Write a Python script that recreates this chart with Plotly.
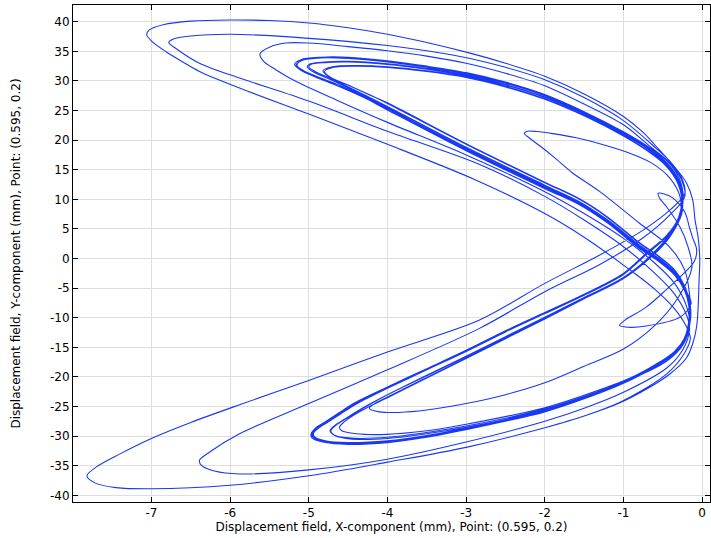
import plotly.graph_objects as go

# Displacement path (mm) at point (0.595, 0.2), traced pass by pass from the reference.
seg01_x = [-2.0, -1.5, -1.05, -0.7, -0.41, -0.2, -0.12, -0.07, -0.05, -0.04, -0.03, -0.05, -0.09, -0.12, -0.2, -0.35, -0.54, -0.75, -1.0, -1.5, -2.0, -2.5, -2.95, -3.5, -4.0, -4.5, -5.0, -5.5, -6.0, -6.5, -6.85, -7.03, -7.06, -6.98, -6.81, -6.6, -6.39, -5.88, -5.0, -4.0, -2.9, -2.0, -1.5, -0.97, -0.6, -0.35, -0.2]
seg01_y = [-28.6, -26.6, -24.4, -22.0, -19.5, -16.8, -14.4, -11.5, -8.0, -4.0, 0.0, 3.5, 6.5, 9.9, 12.8, 15.5, 18.3, 21.3, 24.0, 27.8, 30.8, 33.0, 34.7, 36.5, 37.9, 39.0, 39.8, 40.2, 40.3, 40.1, 39.5, 38.6, 37.8, 36.5, 34.9, 33.2, 31.6, 28.8, 24.4, 19.3, 13.4, 7.6, 3.6, -1.4, -5.2, -8.5, -11.5]

seg02_x = [-0.15, -0.25, -0.45, -0.7, -1.05, -1.5, -2.0, -3.0, -4.0, -5.0, -6.0, -7.0, -7.45, -7.72, -7.82, -7.7, -7.4, -7.0, -6.5, -5.88, -5.0, -4.0, -2.83, -2.0, -1.3, -0.75, -0.4, -0.22]
seg02_y = [-13.5, -16.5, -19.5, -21.8, -24.3, -26.6, -28.6, -31.9, -34.4, -36.7, -38.3, -38.9, -38.7, -37.9, -36.7, -35.2, -33.0, -30.4, -27.7, -24.7, -20.6, -15.8, -10.4, -4.2, 0.6, 4.8, 8.3, 11.0]

seg03_x = [-0.26, -0.4, -0.6, -1.0, -1.5, -2.0, -2.5, -2.95, -3.5, -4.0, -5.0, -6.0, -6.5, -6.72, -6.78, -6.68, -6.39, -5.88, -5.0, -4.0, -2.85, -2.0, -1.5, -1.0, -0.6, -0.35, -0.2]
seg03_y = [13.6, 16.3, 18.8, 23.3, 27.2, 30.2, 32.3, 33.8, 35.1, 36.0, 37.2, 37.9, 37.6, 37.1, 36.5, 35.4, 33.0, 30.5, 26.6, 21.5, 16.0, 10.5, 6.5, 2.0, -2.5, -6.0, -9.5]

seg04_x = [-0.16, -0.25, -0.45, -1.0, -1.5, -2.0, -3.0, -4.0, -5.0, -5.88, -6.2, -6.36, -6.39, -6.25, -5.88, -5.0, -4.0, -2.83, -2.0, -1.3, -0.75, -0.4, -0.22]
seg04_y = [-12.0, -15.5, -18.5, -22.6, -25.3, -27.5, -31.0, -33.9, -35.7, -36.4, -35.9, -35.0, -34.1, -32.6, -29.6, -24.5, -18.8, -11.8, -5.6, -1.0, 3.5, 7.5, 10.5]

seg05_x = [-0.27, -0.42, -0.65, -1.0, -1.5, -2.0, -2.5, -3.0, -3.5, -4.0, -4.5, -5.0, -5.3, -5.5, -5.62, -5.58, -5.42, -5.16, -4.65, -4.0, -3.0, -2.0, -1.5, -1.0, -0.6, -0.35, -0.2]
seg05_y = [13.5, 16.3, 18.8, 22.6, 26.1, 29.2, 31.3, 33.0, 34.2, 35.1, 35.8, 36.4, 36.4, 35.7, 34.6, 33.4, 31.9, 29.9, 26.8, 23.0, 17.5, 11.3, 7.6, 3.4, -0.8, -4.2, -8.0]

seg06_x = [-0.16, -0.24, -0.45, -0.9, -1.5, -2.0, -3.0, -4.0, -4.5, -4.68, -4.72, -4.66, -4.52, -4.3, -4.0, -3.5, -3.0, -2.0, -1.5, -1.0, -0.65, -0.4, -0.26]
seg06_y = [-11.0, -14.5, -17.3, -20.3, -23.3, -25.4, -28.3, -30.2, -30.3, -29.8, -29.1, -28.2, -27.0, -25.2, -23.0, -19.8, -16.6, -10.0, -6.6, -3.3, 0.3, 4.0, 7.5]

seg07_x = [-0.25, -0.3, -0.45, -0.7, -1.0, -1.5, -2.0, -2.5, -3.0, -3.5, -4.0, -4.5, -4.85, -5.08, -5.16, -5.08, -4.85, -4.6, -4.3, -4.0, -3.0, -2.0, -1.56, -1.2, -0.8, -0.55, -0.35, -0.22]
seg07_y = [10.2, 13.3, 16.2, 18.8, 21.2, 24.6, 27.5, 29.6, 31.2, 32.3, 33.2, 33.8, 33.9, 33.5, 32.7, 31.8, 30.5, 29.2, 27.4, 25.3, 18.4, 12.0, 9.3, 6.2, 1.9, -0.3, -2.6, -5.3]

seg08_x = [-0.16, -0.16, -0.22, -0.35, -0.55, -0.92, -1.5, -2.0, -2.5, -3.0, -3.5, -4.0, -4.5, -4.8, -4.94, -4.95, -4.88, -4.75, -4.6, -4.4, -4.0, -3.5, -3.0, -2.5, -2.0, -1.56, -1.0, -0.7, -0.45, -0.3]
seg08_y = [-8.0, -10.5, -13.5, -15.8, -17.7, -20.4, -23.5, -25.7, -27.3, -28.7, -30.0, -30.9, -31.2, -30.9, -30.2, -29.6, -28.6, -27.5, -26.2, -24.5, -21.8, -18.7, -15.6, -12.3, -9.2, -6.5, -2.6, 0.9, 3.8, 6.8]

seg09_x = [-0.26, -0.31, -0.46, -0.7, -1.0, -1.5, -2.0, -2.5, -3.0, -3.5, -4.0, -4.5, -4.8, -4.97, -5.0, -4.92, -4.7, -4.3, -4.0, -3.0, -2.0, -1.56, -1.2, -0.8, -0.55, -0.35, -0.22]
seg09_y = [10.0, 13.2, 16.0, 18.6, 21.0, 24.4, 27.2, 29.3, 30.9, 32.0, 32.8, 33.2, 33.1, 32.8, 32.4, 31.6, 30.3, 27.7, 25.7, 18.8, 12.4, 9.6, 6.5, 2.3, 0.0, -2.3, -5.0]

seg10_x = [-0.15, -0.15, -0.21, -0.33, -0.53, -0.9, -1.5, -2.0, -3.0, -3.5, -4.0, -4.4, -4.58, -4.61, -4.55, -4.42, -4.2, -4.0, -3.5, -3.0, -2.0, -1.5, -1.0, -0.68, -0.45, -0.3]
seg10_y = [-8.0, -10.5, -13.3, -15.5, -17.4, -20.1, -23.1, -25.2, -28.0, -29.1, -29.7, -29.6, -29.1, -28.5, -27.6, -26.4, -24.8, -23.5, -20.2, -16.9, -10.2, -6.8, -3.4, 0.2, 3.4, 6.5]

seg11_x = [-0.24, -0.29, -0.44, -0.7, -1.0, -1.5, -2.0, -2.5, -3.0, -3.5, -4.0, -4.5, -4.85, -5.1, -5.18, -5.1, -4.87, -4.6, -4.3, -4.0, -3.0, -2.0, -1.56, -1.2, -0.8, -0.55, -0.35, -0.22]
seg11_y = [10.3, 13.5, 16.4, 19.0, 21.4, 24.8, 27.7, 29.8, 31.4, 32.5, 33.4, 34.0, 34.0, 33.6, 32.8, 31.8, 30.4, 29.0, 27.2, 25.1, 18.2, 11.8, 9.1, 6.0, 1.7, -0.5, -2.8, -5.5]

seg12_x = [-0.17, -0.17, -0.23, -0.36, -0.56, -0.93, -1.5, -2.0, -2.5, -3.0, -3.5, -4.0, -4.5, -4.82, -4.96, -4.97, -4.9, -4.77, -4.62, -4.42, -4.0, -3.5, -3.0, -2.5, -2.0, -1.56, -1.0, -0.7, -0.45, -0.3]
seg12_y = [-8.0, -10.6, -13.6, -15.9, -17.8, -20.5, -23.6, -25.8, -27.4, -28.8, -30.1, -31.0, -31.3, -31.0, -30.3, -29.6, -28.5, -27.4, -26.1, -24.4, -21.7, -18.6, -15.5, -12.2, -9.1, -6.4, -2.5, 1.0, 3.9, 6.9]

seg13_x = [-0.26, -0.32, -0.47, -0.72, -1.0, -1.5, -2.0, -2.5, -3.0, -3.5, -4.0, -4.4, -4.68, -4.8, -4.72, -4.5, -4.2, -4.0, -3.0, -2.0, -1.56, -1.2, -0.8, -0.55, -0.35, -0.22]
seg13_y = [10.0, 13.0, 15.8, 18.4, 20.7, 24.1, 26.9, 29.0, 30.6, 31.6, 32.3, 32.5, 32.3, 31.6, 30.6, 29.3, 27.5, 26.2, 19.3, 12.8, 10.0, 6.9, 2.6, 0.3, -2.0, -4.8]

seg14_x = [-0.15, -0.16, -0.23, -0.4, -0.6, -0.95, -1.5, -2.0, -3.0, -4.0, -4.45, -4.67, -4.73, -4.67, -4.53, -4.31, -4.0, -3.5, -3.0, -2.0, -1.5, -1.0, -0.66, -0.42, -0.28]
seg14_y = [-8.0, -10.8, -14.0, -16.8, -18.5, -20.6, -23.5, -25.6, -28.5, -30.4, -30.5, -29.9, -29.1, -28.2, -27.0, -25.2, -23.0, -19.7, -16.5, -9.9, -6.6, -3.2, 0.4, 4.0, 7.3]

seg15_x = [-0.25, -0.3, -0.45, -0.7, -1.0, -1.5, -2.0, -2.5, -3.0, -3.5, -4.0, -4.5, -4.8, -4.98, -5.02, -4.94, -4.72, -4.3, -4.0, -3.0, -2.0, -1.56, -1.2, -0.8, -0.55, -0.35, -0.22]
seg15_y = [10.2, 13.3, 16.1, 18.7, 21.1, 24.5, 27.3, 29.4, 31.0, 32.1, 32.9, 33.3, 33.2, 32.9, 32.4, 31.5, 30.2, 27.6, 25.6, 18.7, 12.3, 9.5, 6.4, 2.2, -0.1, -2.4, -5.1]

seg16_x = [-0.16, -0.15, -0.21, -0.34, -0.54, -0.91, -1.5, -2.0, -2.5, -3.0, -3.5, -4.0, -4.5, -4.79, -4.93, -4.94, -4.87, -4.74, -4.59, -4.39, -4.0, -3.5, -3.0, -2.5, -2.0, -1.56, -1.0, -0.7, -0.45, -0.3]
seg16_y = [-8.1, -10.4, -13.4, -15.7, -17.6, -20.3, -23.4, -25.6, -27.2, -28.6, -29.9, -30.8, -31.1, -30.8, -30.1, -29.5, -28.5, -27.4, -26.1, -24.4, -21.9, -18.8, -15.7, -12.4, -9.3, -6.6, -2.7, 0.8, 3.7, 6.7]

seg17_x = [-0.25, -0.31, -0.46, -0.71, -1.0, -1.5, -2.0, -2.5, -3.0, -3.5, -4.0, -4.5, -4.86, -5.1, -5.15, -5.06, -4.84, -4.58, -4.28, -4.0, -3.0, -2.0, -1.56, -1.2, -0.8, -0.55, -0.35, -0.22]
seg17_y = [10.1, 13.4, 16.3, 18.9, 21.3, 24.7, 27.6, 29.7, 31.3, 32.4, 33.3, 33.9, 33.95, 33.5, 32.6, 31.7, 30.4, 29.1, 27.3, 25.4, 18.5, 12.1, 9.4, 6.3, 2.0, -0.2, -2.5, -5.2]

seg18_x = [-0.14, -0.28, -0.71, -0.95, -1.05, -0.98, -0.71, -0.45, -0.28, -0.1, -0.07, -0.12, -0.16, -0.22, -0.37, -0.48, -0.56, -0.54, -0.45, -0.28, -0.18, -0.13]
seg18_y = [-7.6, -9.9, -11.4, -11.6, -11.3, -10.4, -8.2, -5.2, -3.1, -0.5, 1.5, 3.5, 5.2, 7.8, 10.2, 10.9, 11.0, 10.2, 8.7, 5.3, 2.0, -1.5]

seg19_x = [-0.3, -0.6, -1.0, -1.5, -2.0, -2.5, -3.0, -3.5, -3.85, -4.1, -4.23, -4.15, -4.0, -3.5, -3.0, -2.0, -1.5, -1.0, -0.66, -0.42, -0.28, -0.28, -0.41, -0.65, -0.92, -1.3, -1.6, -1.9, -2.1, -2.22, -2.26, -2.2, -2.06, -1.88, -1.65, -1.3, -0.8, -0.41, -0.22, -0.16]
seg19_y = [-6.5, -11.3, -15.3, -18.2, -21.0, -23.0, -24.5, -25.6, -26.0, -25.9, -25.3, -24.4, -23.4, -20.1, -16.8, -10.2, -6.8, -3.4, 0.1, 3.5, 7.0, 10.4, 13.6, 16.2, 17.8, 19.4, 20.4, 21.1, 21.45, 21.5, 21.15, 20.4, 19.0, 17.1, 14.5, 11.3, 6.0, 1.9, -2.0, -6.0]

seg20_x = [-0.15, -0.16, -0.22, -0.35, -0.55, -0.92, -1.5, -2.0, -2.5, -3.0, -3.5, -4.0, -4.5, -4.81, -4.95, -4.96, -4.89, -4.76, -4.61, -4.41, -4.0, -3.5, -3.0, -2.5, -2.0, -1.56, -1.0, -0.7, -0.45, -0.3]
seg20_y = [-8.2, -10.4, -13.4, -15.7, -17.6, -20.3, -23.4, -25.6, -27.3, -28.7, -29.95, -30.85, -31.15, -30.85, -30.15, -29.55, -28.55, -27.45, -26.15, -24.45, -21.75, -18.65, -15.55, -12.25, -9.15, -6.45, -2.55, 0.95, 3.85, 6.85]

seg21_x = [-0.26, -0.32, -0.47, -0.72, -1.0, -1.5, -2.0, -2.5, -3.0, -3.5, -4.0, -4.4, -4.7, -4.82, -4.74, -4.52, -4.22, -4.0, -3.0, -2.0, -1.56, -1.2, -0.8, -0.55, -0.35, -0.22]
seg21_y = [10.1, 13.1, 15.9, 18.5, 20.8, 24.2, 27.0, 29.1, 30.7, 31.7, 32.4, 32.6, 32.4, 31.7, 30.7, 29.4, 27.6, 26.3, 19.4, 12.9, 10.1, 7.0, 2.7, 0.4, -1.9, -4.7]

seg22_x = [-0.16, -0.16, -0.22, -0.35, -0.55, -0.92, -1.5, -2.0, -2.5, -3.0, -3.5, -4.0, -4.5, -4.8, -4.93, -4.95, -4.88, -4.75, -4.6, -4.4, -4.0, -3.5, -3.0, -2.5, -2.0, -1.56, -1.0, -0.7, -0.45]
seg22_y = [-7.9, -10.6, -13.7, -16.0, -17.9, -20.6, -23.7, -25.9, -27.5, -28.9, -30.2, -31.1, -31.4, -31.05, -30.35, -29.7, -28.7, -27.6, -26.3, -24.6, -21.9, -18.8, -15.7, -12.4, -9.3, -6.6, -2.7, 0.8, 3.7]

x_ticks = [-7, -6, -5, -4, -3, -2, -1, 0]
y_ticks = [-40, -35, -30, -25, -20, -15, -10, -5, 0, 5, 10, 15, 20, 25, 30, 35, 40]

segments = [
    (seg01_x, seg01_y), (seg02_x, seg02_y), (seg03_x, seg03_y), (seg04_x, seg04_y),
    (seg05_x, seg05_y), (seg06_x, seg06_y), (seg07_x, seg07_y), (seg08_x, seg08_y),
    (seg09_x, seg09_y), (seg10_x, seg10_y), (seg11_x, seg11_y), (seg12_x, seg12_y),
    (seg13_x, seg13_y), (seg14_x, seg14_y), (seg15_x, seg15_y), (seg16_x, seg16_y),
    (seg17_x, seg17_y), (seg18_x, seg18_y), (seg19_x, seg19_y), (seg20_x, seg20_y),
    (seg21_x, seg21_y), (seg22_x, seg22_y),
]
xs, ys = [], []
for sx, sy in segments:
    assert len(sx) == len(sy)
    xs.extend(sx)
    ys.extend(sy)

font_family = "DejaVu Sans, Liberation Sans, sans-serif"
fig = go.Figure(go.Scatter(
    x=xs, y=ys, mode="lines",
    line=dict(color="rgb(24,56,245)", width=1.1, shape="spline", smoothing=0.9),
    hoverinfo="skip", showlegend=False,
))

axis_common = dict(
    ticks="inside", ticklen=5, tickwidth=1, tickcolor="black",
    showline=True, linecolor="black", linewidth=1, mirror="ticks",
    showgrid=True, gridcolor="rgb(222,222,222)", gridwidth=1,
    zeroline=False, tickfont=dict(family=font_family, size=12, color="black"),
)
fig.update_layout(
    width=711, height=538,
    margin=dict(l=73, r=1, t=5, b=36),
    paper_bgcolor="white", plot_bgcolor="white",
    font=dict(family=font_family, size=12, color="black"),
    xaxis=dict(
        range=[-7.997, 0.1], tickvals=x_ticks, ticktext=[str(v) for v in x_ticks],
        title=dict(text="Displacement field, X-component (mm), Point: (0.595, 0.2)",
                   font=dict(family=font_family, size=12, color="black"), standoff=0),
        automargin=False, **axis_common,
    ),
    yaxis=dict(
        range=[-41.13, 42.83], tickvals=y_ticks, ticktext=[str(v) for v in y_ticks],
        title=dict(text="Displacement field, Y-component (mm), Point: (0.595, 0.2)",
                   font=dict(family=font_family, size=12, color="black"), standoff=26),
        automargin=False, **axis_common,
    ),
)
fig.write_html("out.html", config={"displayModeBar": False},
               post_script="document.body.style.margin='0';")
